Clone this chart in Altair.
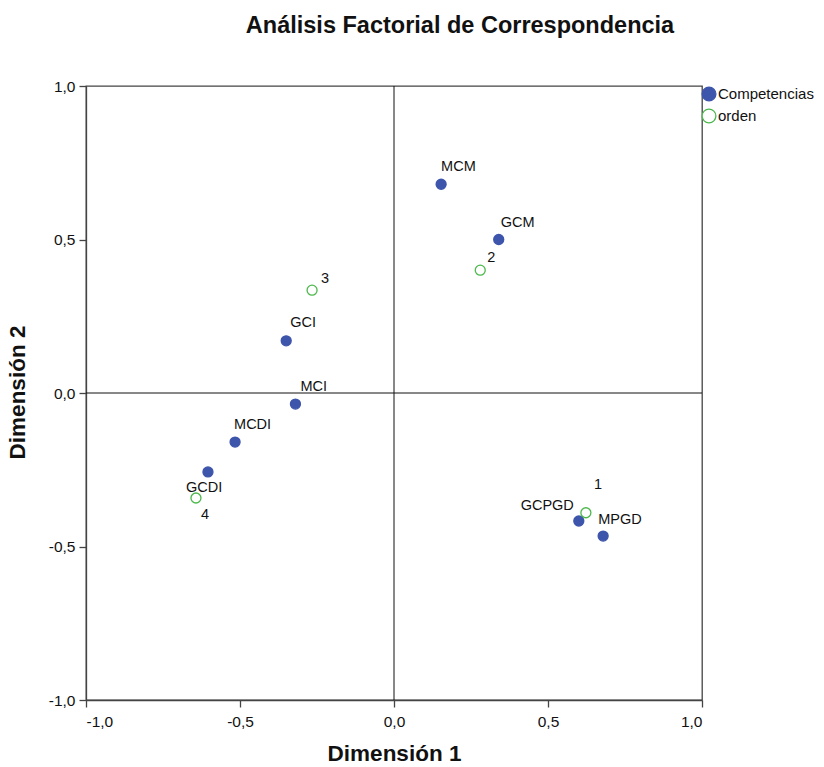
import altair as alt
import pandas as pd

# ---- data ----
comp_labels = ["MCM", "GCM", "GCI", "MCI", "MCDI", "GCDI", "GCPGD", "MPGD"]
comp_x = [0.153, 0.34, -0.35, -0.32, -0.516, -0.604, 0.60, 0.679]
comp_y = [0.68, 0.50, 0.17, -0.036, -0.16, -0.257, -0.417, -0.466]

orden_labels = ["1", "2", "3", "4"]
orden_x = [0.623, 0.28, -0.266, -0.643]
orden_y = [-0.39, 0.40, 0.335, -0.342]

series_names = ["Competencias", "orden"]

BLUE = "#3d55ab"
GREEN = "#4cb84c"

df = pd.DataFrame({
    "label": comp_labels + orden_labels,
    "x": comp_x + orden_x,
    "y": comp_y + orden_y,
    "serie": [series_names[0]] * len(comp_labels) + [series_names[1]] * len(orden_labels),
})

# label placement (style only): align, dx, dy
label_style = {
    "MCM": ("left", 0, -17),
    "GCM": ("left", 2, -17),
    "GCI": ("left", 4, -18),
    "MCI": ("left", 5, -17),
    "MCDI": ("left", -1, -17),
    "GCDI": ("left", -22, 16),
    "GCPGD": ("right", -5, -15),
    "MPGD": ("left", -5, -16),
    "1": ("left", 8, -28),
    "2": ("left", 7, -12),
    "3": ("left", 9, -11),
    "4": ("left", 5, 17),
}

W, H = 616, 614
FONT = "Liberation Sans"
xscale = alt.Scale(domain=[-1, 1], nice=False, zero=False)
yscale = alt.Scale(domain=[-1, 1], nice=False, zero=False)
lab_expr = "replace(replace(format(datum.value, '.1f'), '.', ','), '\u2212', '-')"

legend_cfg = dict(title=None, orient="none", legendX=615, legendY=0,
                  symbolSize=190, symbolStrokeWidth=1.3,
                  labelFontSize=15, labelFont=FONT,
                  labelColor="#111", labelOffset=1, rowPadding=2,
                  padding=0, symbolType="circle")

base = alt.Chart(df)

points = base.mark_point(shape="circle", strokeWidth=1.3, opacity=1, size=100).encode(
    x=alt.X("x:Q", scale=xscale,
            axis=alt.Axis(values=[-1, -0.5, 0, 0.5, 1], labelExpr=lab_expr, title="Dimensión 1",
                          grid=False, tickSize=7, labelPadding=7,
                          titleFontSize=22.5, titleFontWeight="bold", titleFont=FONT,
                          titleY=42, titleColor="#111")),
    y=alt.Y("y:Q", scale=yscale,
            axis=alt.Axis(values=[-1, -0.5, 0, 0.5, 1], labelExpr=lab_expr, title="Dimensión 2",
                          grid=False, tickSize=7, labelPadding=4,
                          titleFontSize=22.5, titleFontWeight="bold", titleFont=FONT,
                          titleX=-57, titleY=W / 2 - 2, titleColor="#111")),
    stroke=alt.Stroke("serie:N", scale=alt.Scale(domain=series_names, range=[BLUE, GREEN]),
                      legend=alt.Legend(**legend_cfg)),
    fill=alt.Fill("serie:N", scale=alt.Scale(domain=series_names, range=[BLUE, "#ffffff"]),
                  legend=alt.Legend(**legend_cfg)),
)

zero_df = pd.DataFrame({"v": [0]})
vrule = alt.Chart(zero_df).mark_rule(color="#111", strokeWidth=1).encode(x=alt.X("v:Q", scale=xscale))
hrule = alt.Chart(zero_df).mark_rule(color="#111", strokeWidth=1).encode(y=alt.Y("v:Q", scale=yscale))

text_layers = []
for lab, (al, dx, dy) in label_style.items():
    text_layers.append(
        base.transform_filter(alt.datum.label == lab).mark_text(
            align=al, baseline="middle", dx=dx, dy=dy, fontSize=14.5,
            font=FONT, color="#111"
        ).encode(x=alt.X("x:Q", scale=xscale), y=alt.Y("y:Q", scale=yscale), text="label:N")
    )

chart = alt.layer(vrule, hrule, points, *text_layers).properties(
    width=W, height=H,
    title=alt.TitleParams("Análisis Factorial de Correspondencia", fontSize=23.5,
                          font=FONT, fontWeight="bold", color="#111",
                          anchor="middle", dx=66, offset=42),
    autosize=alt.AutoSizeParams(type="none"),
    padding={"left": 86, "top": 86, "right": 122, "bottom": 67},
).configure_view(stroke="#444", strokeWidth=1.3).configure_axis(
    domainColor="#444", domainWidth=1.3, tickColor="#444", tickWidth=1.3,
    labelFontSize=15.5, labelFont=FONT, labelColor="#111",
)

chart.save("out.html", embed_options={"renderer": "svg", "actions": False})
